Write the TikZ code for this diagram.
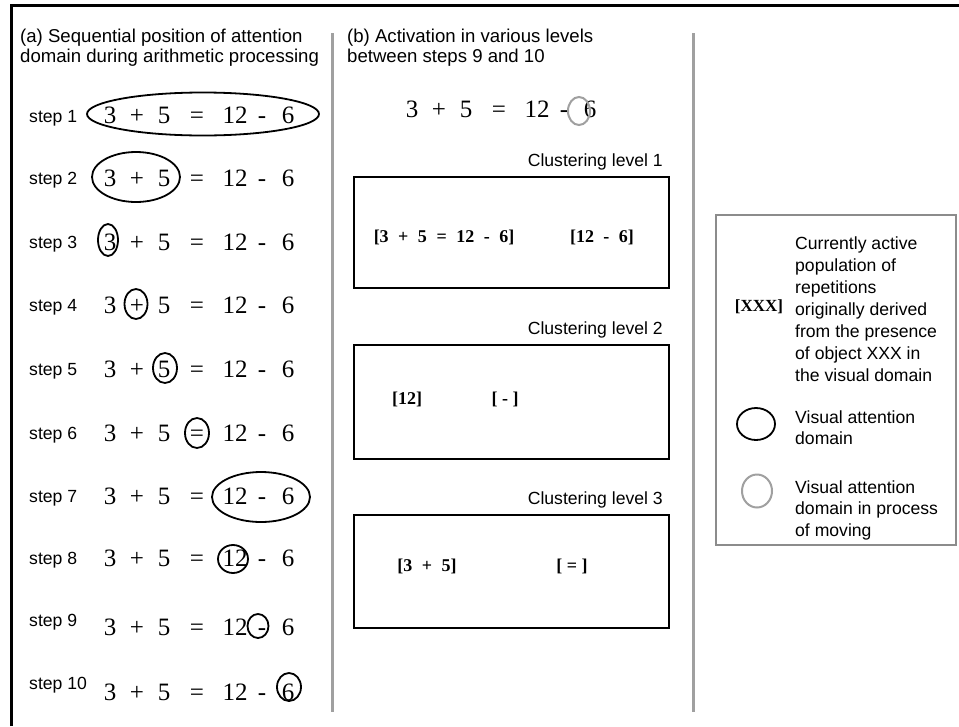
\documentclass[tikz,border=0pt]{standalone}
\usepackage{fontspec}
\setmainfont{Liberation Serif}
\setsansfont{Liberation Sans}
\definecolor{rulegray}{RGB}{160,160,160}
\definecolor{boxgray}{RGB}{140,140,140}
\newcommand\clgap{\hspace{9.5pt}}
% one row of the expression: #1 name prefix, #2 baseline, #3 horizontal shift
\newcommand\exprow[3]{%
  \foreach \tok/\xx/\nm in {3/110/a,+/137/b,5/164/c,=/197/d,12/235/e,-/262/f,6/288/g}
    \node[eqtok] (#1\nm) at (\xx+#3,#2) {\tok};%
}
\begin{document}
\begin{tikzpicture}[x=1pt,y=-1pt,
  lab/.style={font=\sffamily\fontsize{17.6}{20}\selectfont, inner sep=0pt},
  heading/.style={font=\sffamily\fontsize{18.6}{20}\selectfont, inner sep=0pt, anchor=north west, align=left},
  eqtok/.style={font=\fontsize{25}{30}\selectfont, anchor=base, inner sep=0pt},
  clus/.style={font=\bfseries\fontsize{18}{20}\selectfont, inner sep=0pt, anchor=base},
  focus/.style={draw=black, line width=1.8pt},
  moving/.style={draw=rulegray, line width=2pt},
  divider/.style={draw=rulegray, line width=3pt},
  levelbox/.style={draw=black, line width=2.5pt},
]
\useasboundingbox (0,0) rectangle (959,726);
\fill[white] (0,0) rectangle (959,726);

% frame
\draw[line width=3pt] (11.5,726) -- (11.5,5.5) -- (959,5.5);
% column dividers
\coordinate (d1t) at (332,33); \coordinate (d1b) at (332,712);
\coordinate (d2t) at (693,33); \coordinate (d2b) at (693,712);
\draw[divider] (d1t) -- (d1b);
\draw[divider] (d2t) -- (d2b);

% ---------- column (a) ----------
\node[heading] (ta) at (20,29)
  {(a) Sequential position of attention\\domain during arithmetic processing};

\foreach \k/\yc/\yl in {1/115/116,2/178/178,3/242/242,4/305/305,5/369/369,
                        6/433/433,7/496/496,8/558/558,9/627/620,10/692/683} {
  \node[lab, anchor=base west] (s\k) at (29,\yl+6.3) {step \k};
  \exprow{r\k}{\yc+8.4}{0}
}

% attention domains, steps 1-10
\draw[focus] (203,114) ellipse [x radius=116, y radius=21.5];
\draw[focus] (136,177) ellipse [x radius=44, y radius=25];
\draw[focus] (108,240) ellipse [x radius=10, y radius=16];
\draw[focus] (136,304) ellipse [x radius=11.5, y radius=15];
\draw[focus] (165,368) ellipse [x radius=12, y radius=15];
\draw[focus] (197,433) ellipse [x radius=12, y radius=15];
\draw[focus] (261,497) ellipse [x radius=49, y radius=25];
\draw[focus] (233,559) ellipse [x radius=15, y radius=14];
\draw[focus] (258,626) ellipse [x radius=10.5, y radius=12];
\draw[focus] (289,687) ellipse [x radius=12, y radius=14];

% ---------- column (b) ----------
\node[heading] (tb) at (347,29)
  {(b) Activation in various levels\\between steps 9 and 10};
\exprow{q}{117.4}{302}
\draw[moving] (579,111) ellipse [x radius=11, y radius=14];

\node[lab, anchor=base east] (c1) at (663,166.3) {Clustering level 1};
\node[lab, anchor=base east] (c2) at (663,334.3) {Clustering level 2};
\node[lab, anchor=base east] (c3) at (663,504.3) {Clustering level 3};

\draw[levelbox] (354,177) rectangle (669,288);
\draw[levelbox] (354,345) rectangle (669,459);
\draw[levelbox] (354,515) rectangle (669,628);

\node[clus] (l1a) at (444,242) {[3\clgap+\clgap5\clgap=\clgap12\clgap-\clgap6]};
\node[clus] (l1b) at (602,242) {[12\clgap-\clgap6]};
\node[clus] (l2a) at (407,404) {[12]};
\node[clus] (l2b) at (505,404) {[ - ]};
\node[clus] (l3a) at (427,571) {[3\clgap+\clgap5]};
\node[clus] (l3b) at (572,571) {[ = ]};

% ---------- legend ----------
\draw[draw=boxgray, line width=2pt] (716,215) rectangle (956,545);
\node[clus, font=\bfseries\fontsize{17}{20}\selectfont] (lgx) at (759,311.5) {[XXX]};
\node[lab, anchor=north west, align=left, font=\sffamily\fontsize{17.6}{22}\selectfont] (lg1) at (795,236.5)
  {Currently active\\population of\\repetitions\\originally derived\\from the presence\\of object XXX in\\the visual domain};
\draw[focus] (756,424) ellipse [x radius=19, y radius=16];
\node[lab, anchor=north west, align=left, font=\sffamily\fontsize{17.6}{21}\selectfont] (lg2) at (795,410.5)
  {Visual attention\\domain};
\draw[moving] (757,491) ellipse [x radius=15, y radius=16.5];
\node[lab, anchor=north west, align=left, font=\sffamily\fontsize{17.6}{21.5}\selectfont] (lg3) at (795,480.5)
  {Visual attention\\domain in process\\of moving};
\end{tikzpicture}
\end{document}
